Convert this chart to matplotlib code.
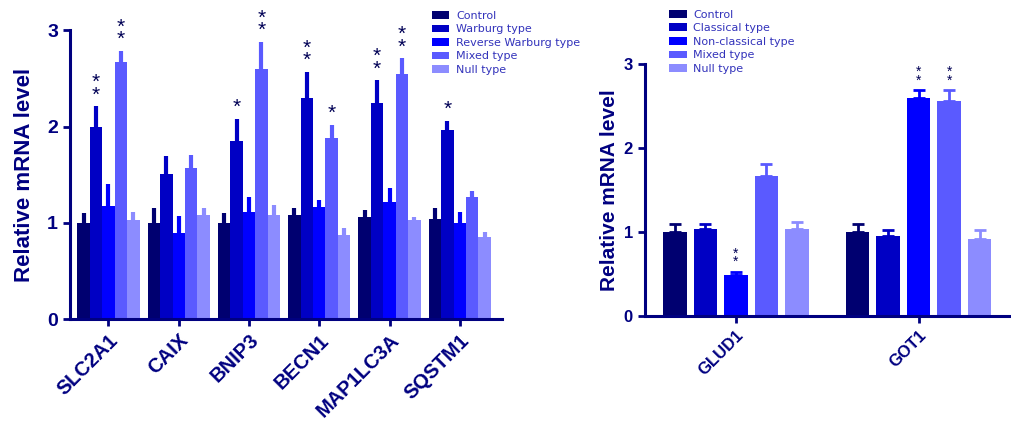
import numpy as np
import matplotlib
matplotlib.use("Agg")
import matplotlib.pyplot as plt

plt.rcParams['font.family'] = ['Liberation Sans', 'DejaVu Sans']

# Dados - painel esquerdo
genes_esq = ["SLC2A1", "CAIX", "BNIP3", "BECN1", "MAP1LC3A", "SQSTM1"]
grupos_esq = ["Control", "Warburg type", "Reverse Warburg type", "Mixed type", "Null type"]
control_esq = [1.00, 1.00, 1.00, 1.08, 1.06, 1.04]
warburg_esq = [2.00, 1.51, 1.85, 2.30, 2.25, 1.96]
reverse_esq = [1.17, 0.89, 1.11, 1.16, 1.22, 1.00]
mixed_esq = [2.67, 1.57, 2.60, 1.88, 2.55, 1.27]
null_esq = [1.03, 1.08, 1.08, 0.87, 1.03, 0.85]
erro_control_esq = [0.10, 0.15, 0.10, 0.07, 0.07, 0.11]
erro_warburg_esq = [0.21, 0.18, 0.23, 0.27, 0.23, 0.10]
erro_reverse_esq = [0.23, 0.18, 0.16, 0.08, 0.14, 0.11]
erro_mixed_esq = [0.12, 0.13, 0.28, 0.14, 0.16, 0.06]
erro_null_esq = [0.08, 0.07, 0.10, 0.08, 0.03, 0.05]
# significancia (gene, grupo, texto)
estrelas_esq = [(0, 1, "**"), (0, 3, "**"), (2, 1, "*"), (2, 3, "**"),
                (3, 1, "**"), (3, 3, "*"), (4, 1, "**"), (4, 3, "**"), (5, 1, "*")]

# Dados - painel direito
genes_dir = ["GLUD1", "GOT1"]
grupos_dir = ["Control", "Classical type", "Non-classical type", "Mixed type", "Null type"]
control_dir = [1.00, 1.00]
classical_dir = [1.04, 0.95]
nonclassical_dir = [0.49, 2.59]
mixed_dir = [1.67, 2.56]
null_dir = [1.04, 0.92]
erro_control_dir = [0.10, 0.10]
erro_classical_dir = [0.06, 0.07]
erro_nonclassical_dir = [0.04, 0.10]
erro_mixed_dir = [0.14, 0.13]
erro_null_dir = [0.08, 0.10]
estrelas_dir = [(0, 2, "**"), (1, 2, "**"), (1, 3, "**")]

cores = ["#000070", "#0000C4", "#0000FF", "#5A5AFF", "#8C8CFF"]
azul_texto = "#000080"
azul_legenda = "#3333BB"

fig = plt.figure(figsize=(10.12, 4.44), dpi=100)
ax1 = fig.add_axes([0.069, 0.2815, 0.427, 0.650])
ax2 = fig.add_axes([0.637, 0.288, 0.361, 0.568])


def estilo_eixo(ax, tam_tick, tam_label):
    for lado in ["top", "right"]:
        ax.spines[lado].set_visible(False)
    for lado in ["left", "bottom"]:
        ax.spines[lado].set_color(azul_texto)
        ax.spines[lado].set_linewidth(2.2)
    ax.tick_params(axis="both", colors=azul_texto, width=2, length=5, direction="out")
    ax.set_ylim(0, 3)
    ax.set_yticks([0, 1, 2, 3])
    for t in ax.get_yticklabels():
        t.set_fontsize(tam_tick)
        t.set_fontweight("bold")
        t.set_color(azul_texto)
    ax.set_ylabel("Relative mRNA level", fontsize=tam_label, fontweight="bold", color=azul_texto)


def legenda(ax, ancora):
    leg = ax.legend(loc="upper left", bbox_to_anchor=ancora, frameon=False,
                    prop={"family": "DejaVu Sans", "size": 8},
                    labelcolor=azul_legenda, handlelength=1.6, handleheight=0.7,
                    labelspacing=0.32, handletextpad=0.6, borderaxespad=0,
                    borderpad=0)
    return leg


# Painel esquerdo
x = np.arange(len(genes_esq))
largura = 0.177
valores = [control_esq, warburg_esq, reverse_esq, mixed_esq, null_esq]
erros = [erro_control_esq, erro_warburg_esq, erro_reverse_esq, erro_mixed_esq, erro_null_esq]
for i, (v, e) in enumerate(zip(valores, erros)):
    pos = x + (i - 2) * largura
    ax1.bar(pos, v, largura, color=cores[i], label=grupos_esq[i], zorder=2)
    ax1.errorbar(pos, v, yerr=[np.zeros(len(e)), e], fmt="none", ecolor=cores[i],
                 elinewidth=3, capsize=0, zorder=1)
for g, s, txt in estrelas_esq:
    pos = x[g] + (s - 2) * largura
    topo = valores[s][g] + erros[s][g]
    ax1.text(pos, topo + 0.02, "\n".join(txt), ha="center", va="bottom", fontsize=15,
             color="#000055", linespacing=0.55)
ax1.set_xlim(-0.55, 5.6)
ax1.set_xticks(x)
ax1.set_xticklabels(genes_esq, rotation=45, ha="right", rotation_mode="anchor",
                    fontsize=14.5, fontweight="bold", color=azul_texto)
estilo_eixo(ax1, 14, 16)
ax1.yaxis.set_label_coords(-0.08, 0.5)
legenda(ax1, (0.837, 1.068))

# Painel direito
x2 = np.arange(len(genes_dir))
passo = 0.167
larg2 = 0.128
valores2 = [control_dir, classical_dir, nonclassical_dir, mixed_dir, null_dir]
erros2 = [erro_control_dir, erro_classical_dir, erro_nonclassical_dir, erro_mixed_dir, erro_null_dir]
for i, (v, e) in enumerate(zip(valores2, erros2)):
    pos = x2 + (i - 2) * passo
    ax2.bar(pos, v, larg2, color=cores[i], label=grupos_dir[i], zorder=2)
    ax2.errorbar(pos, v, yerr=[np.zeros(len(e)), e], fmt="none", ecolor=cores[i],
                 elinewidth=2, capsize=4, capthick=2, zorder=1)
for g, s, txt in estrelas_dir:
    pos = x2[g] + (s - 2) * passo
    topo = valores2[s][g] + erros2[s][g]
    ax2.text(pos, topo + 0.03, "\n".join(txt), ha="center", va="bottom", fontsize=10,
             color="#000055", linespacing=0.5)
ax2.set_xlim(-0.5, 1.5)
ax2.set_xticks(x2)
ax2.set_xticklabels(genes_dir, rotation=45, ha="right", rotation_mode="anchor",
                    fontsize=12, fontweight="bold", color=azul_texto)
estilo_eixo(ax2, 12, 15)
ax2.yaxis.set_label_coords(-0.07, 0.5)
legenda(ax2, (0.066, 1.215))

fig.savefig("out.png", dpi=100)
